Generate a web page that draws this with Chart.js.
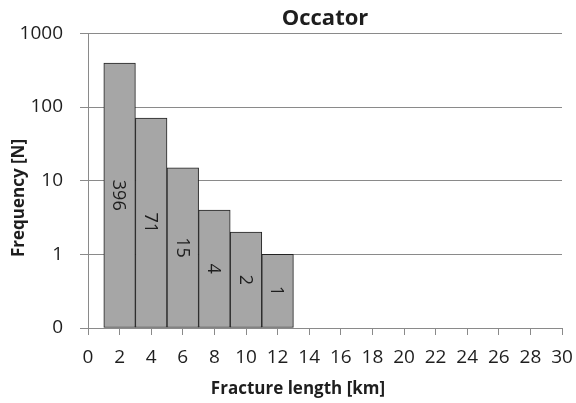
<!DOCTYPE html>
<html>
<head>
<meta charset="utf-8">
<script src="https://cdn.jsdelivr.net/npm/chart.js@4/dist/chart.umd.min.js"></script>
<style>
  html, body { margin: 0; padding: 0; background: #fff; }
  #wrap { width: 576px; height: 403px; }
</style>
</head>
<body>
<div id="wrap"><canvas id="c" width="576" height="403"></canvas></div>
<script>
// ---- data ----
const chartTitle = "Occator";
const xTitle = "Fracture length [km]";
const yTitle = "Frequency [N]";
const binCenters = [2, 4, 6, 8, 10, 12];          // km (bins 1-3, 3-5, ...)
const frequencies = [396, 71, 15, 4, 2, 1];
const yTickValues = [0.1, 1, 10, 100, 1000];
const yTickLabels = ["0", "1", "10", "100", "1000"];
const xMin = 0, xMax = 30, xStep = 2;

const TEXT = "#1e1e1e";
const GRID = "#8a8a8a";
const FONT = "'Open Sans', 'Liberation Sans', sans-serif";

const barLabels = {
  id: 'barLabels',
  afterDatasetsDraw(chart) {
    const ctx = chart.ctx;
    const meta = chart.getDatasetMeta(0);
    ctx.save();
    ctx.fillStyle = TEXT;
    ctx.font = "18px " + FONT;
    ctx.textAlign = 'center';
    ctx.textBaseline = 'middle';
    meta.data.forEach((el, i) => {
      const yc = (el.y + el.base) / 2;
      ctx.save();
      ctx.translate(el.x, yc);
      ctx.rotate(Math.PI / 2);
      ctx.fillText(String(frequencies[i]), 0, 1);
      ctx.restore();
    });
    ctx.restore();
  }
};

const axisTitles = {
  id: 'axisTitles',
  afterDraw(chart) {
    const ctx = chart.ctx;
    ctx.save();
    ctx.fillStyle = TEXT;
    ctx.font = "bold 17px " + FONT;
    ctx.textAlign = 'center';
    ctx.textBaseline = 'alphabetic';
    ctx.fillText(xTitle, 298, 394);
    ctx.translate(24, 198);
    ctx.rotate(-Math.PI / 2);
    ctx.fillText(yTitle, 0, 0);
    ctx.restore();
  }
};

new Chart(document.getElementById('c'), {
  type: 'bar',
  data: {
    datasets: [{
      data: binCenters.map((x, i) => ({ x: x, y: frequencies[i] })),
      backgroundColor: '#a6a6a6',
      borderColor: '#222222',
      borderWidth: 1,
      borderSkipped: false,
      barPercentage: 1.0,
      categoryPercentage: 1.0,
      base: 0.1
    }]
  },
  options: {
    responsive: false,
    animation: false,
    events: [],
    layout: { padding: { left: 0, right: 14, top: 0, bottom: 0 } },
    plugins: {
      legend: { display: false },
      tooltip: { enabled: false },
      title: {
        display: true,
        text: chartTitle,
        fullSize: false,
        color: TEXT,
        font: { family: FONT, size: 22, weight: 'bold', lineHeight: 1.2 },
        padding: { top: 6, bottom: 1 }
      }
    },
    scales: {
      x: {
        type: 'linear',
        min: xMin,
        max: xMax,
        offset: false,
        ticks: {
          stepSize: xStep,
          color: TEXT,
          font: { family: FONT, size: 19 },
          padding: 11,
          maxRotation: 0,
          autoSkip: false
        },
        grid: {
          offset: false,
          drawOnChartArea: false,
          drawTicks: true,
          tickLength: 7,
          color: GRID
        },
        border: { display: true, color: GRID, width: 1 },
        afterFit(scale) {
          scale.height = 75;
          scale.paddingLeft = 0;
          scale.paddingRight = 0;
        }
      },
      y: {
        type: 'logarithmic',
        min: 0.1,
        max: 1000,
        afterBuildTicks(scale) {
          scale.ticks = yTickValues.map(v => ({ value: v }));
        },
        ticks: {
          color: TEXT,
          font: { family: FONT, size: 19 },
          padding: 17,
          autoSkip: false,
          callback(value) {
            const i = yTickValues.findIndex(v => Math.abs(v - value) < 1e-9);
            return i >= 0 ? yTickLabels[i] : '';
          }
        },
        grid: {
          drawOnChartArea: true,
          drawTicks: true,
          tickLength: 8,
          color: GRID
        },
        border: { display: true, color: GRID, width: 1 },
        afterFit(scale) { scale.width = 88; }
      }
    }
  },
  plugins: [barLabels, axisTitles]
});
</script>
</body>
</html>
